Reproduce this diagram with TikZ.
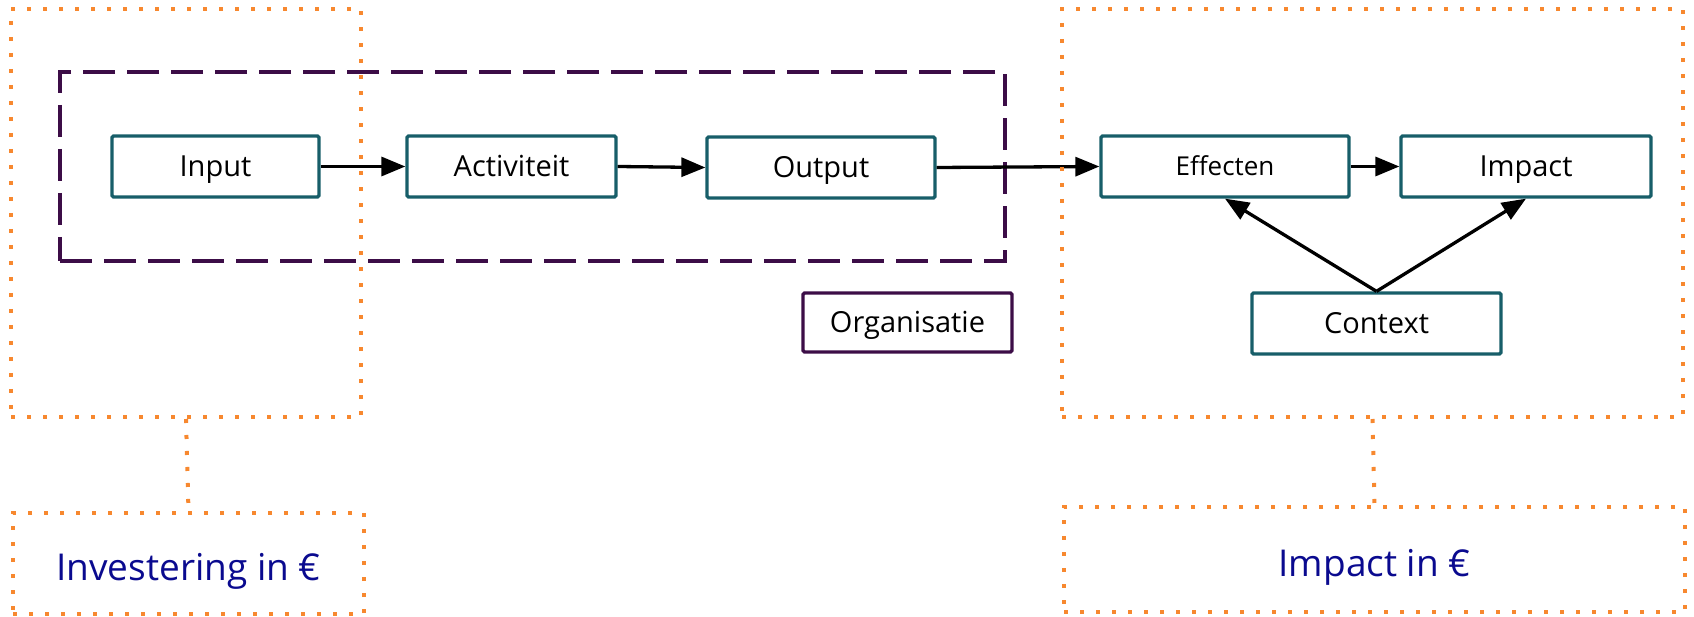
\documentclass[tikz,border=0pt]{standalone}
\usepackage{fontspec}
\setmainfont{Open Sans}
\usetikzlibrary{arrows.meta}
\definecolor{boxteal}{HTML}{175E69}
\definecolor{orgpurple}{HTML}{3C0D47}
\definecolor{dotorange}{HTML}{F7882F}
\definecolor{eurblue}{HTML}{0A0A8F}
\tikzset{
  stepbox/.style={draw=boxteal, line width=3.3pt, rounded corners=1.5pt, inner sep=0pt,
    font=\fontsize{29}{34}\selectfont, text height=20.8pt, text depth=0pt, minimum height=61pt},
  orgbox/.style={draw=orgpurple, line width=3.3pt, rounded corners=1.5pt, inner sep=0pt,
    font=\fontsize{29}{34}\selectfont, text height=20.8pt, text depth=0pt,
    minimum height=59pt, minimum width=209pt},
  dotbox/.style={draw=dotorange, line width=4pt, line cap=butt, dash pattern=on 4pt off 12pt, inner sep=0pt},
  dotline/.style={draw=dotorange, line width=4pt, line cap=butt, dash pattern=on 4pt off 12pt},
  dashbox/.style={draw=orgpurple, line width=3.5pt, dash pattern=on 32pt off 12pt, inner sep=0pt},
  flow/.style={draw=black, line width=3.3pt, -{Triangle[length=24pt,width=19pt]}},
  eurtext/.style={text=eurblue, font=\fontsize{37}{44}\selectfont, text height=34.5pt, text depth=0pt}
}
\begin{document}
\begin{tikzpicture}[x=1pt,y=-1pt]
\useasboundingbox (0,0) rectangle (1694,617);
% dashed organisation frame
\node[dashbox, minimum width=945pt, minimum height=189pt] (frame) at (532.5,166.5) {};
% step boxes
\node[stepbox, minimum width=207pt] (inp) at (215.5,166.5) {Input};
\node[stepbox, minimum width=209pt] (act) at (511.5,166.5) {Activiteit};
\node[stepbox, minimum width=228pt] (out) at (821,167.5) {Output};
\node[stepbox, minimum width=248pt, font=\fontsize{26}{31}\selectfont, text height=18.7pt] (eff) at (1225,166.5) {Effecten};
\node[stepbox, minimum width=250pt] (imp) at (1526,166.5) {Impact};
\node[stepbox, minimum width=249pt] (ctx) at (1376.5,323.5) {Context};
\node[orgbox] (org) at (907.5,322.5) {Organisatie};
% arrows
\draw[flow] (inp.east) -- (act.west);
\draw[flow] (act.east) -- (out.west);
\draw[flow] (out.east) -- (eff.west);
\draw[flow] (eff.east) -- (imp.west);
\draw[flow] (ctx.north) -- (eff.south);
\draw[flow] (ctx.north) -- (imp.south);
% dotted frames
\node[dotbox, minimum width=350pt, minimum height=408pt] (lframe) at (186,213) {};
\node[dotbox, minimum width=621pt, minimum height=408pt] (rframe) at (1372.5,213) {};
\node[dotbox, minimum width=351pt, minimum height=101pt, eurtext] (linv) at (188.5,563.5) {Investering in €};
\node[dotbox, minimum width=621pt, minimum height=105pt, eurtext] (rimp) at (1374.5,559.5) {Impact in €};
\draw[dotline] (lframe.south) -- (linv.north);
\draw[dotline] (rframe.south) -- (rimp.north);
\end{tikzpicture}
\end{document}
